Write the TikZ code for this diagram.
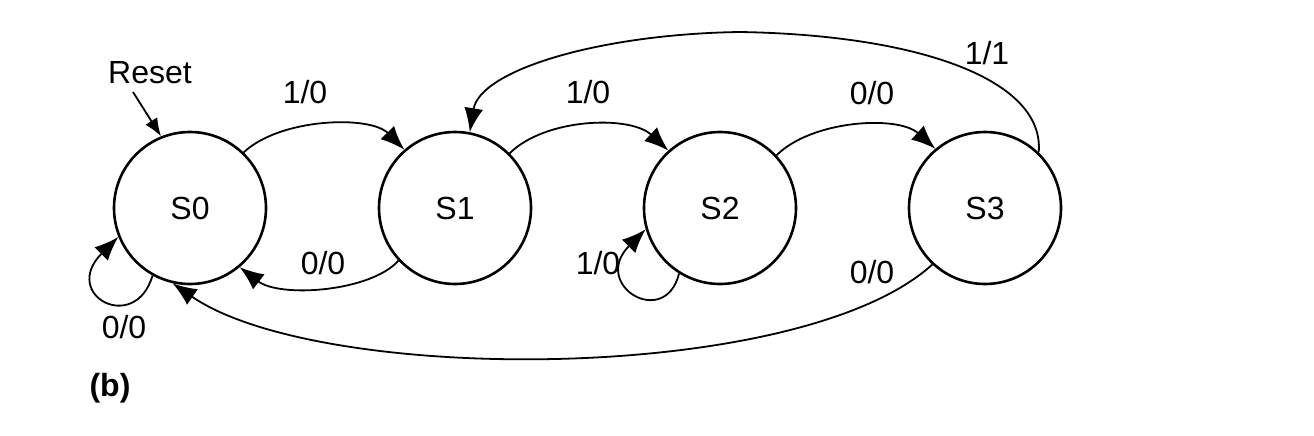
\documentclass[tikz,border=0pt]{standalone}
\usepackage{fontspec}
\setmainfont{Liberation Sans}
\usetikzlibrary{arrows.meta}
\begin{document}
\begin{tikzpicture}[x=1pt,y=-1pt,
  state/.style={circle,draw,line width=2.6pt,minimum size=152pt,inner sep=0pt,font=\fontsize{32}{38}\selectfont},
  lbl/.style={font=\fontsize{32}{38}\selectfont,inner sep=0pt},
  edge/.style={line width=1.8pt,-{Latex[length=24pt,width=19pt]}},
  redge/.style={line width=1.8pt,-{Latex[length=18pt,width=14pt]}}]
\useasboundingbox (0,0) rectangle (1314,436);
\node[state] (S0) at (190,208) {S0};
\node[state] (S1) at (455,208) {S1};
\node[state] (S2) at (720,208) {S2};
\node[state] (S3) at (985,208) {S3};
% labels
\node[lbl] (reset) at (150,73) {Reset};
\node[lbl] (l01) at (305,92) {1/0};
\node[lbl] (l12) at (588,92) {1/0};
\node[lbl] (l23) at (872,93) {0/0};
\node[lbl] (l31) at (987,53) {1/1};
\node[lbl] (l10) at (323,263) {0/0};
\node[lbl] (l22) at (598,263) {1/0};
\node[lbl] (l30) at (872,272) {0/0};
\node[lbl] (l00) at (124,327) {0/0};
\node[lbl,font=\fontsize{32}{38}\selectfont\bfseries] (b) at (110,388) {(b)};
% reset arrow
\coordinate (rs) at (133,92);
\draw[redge] (rs) -- (S0.112);
% forward edges
\draw[edge] (S0.46) .. controls (280,118) and (370,115) .. (S1.131);
\draw[edge] (S1.45) .. controls (545,118) and (630,115) .. (S2.132);
\draw[edge] (S2.43) .. controls (812,120) and (898,115) .. (S3.130);
% S3 -> S1 (1/1)
\coordinate (top) at (740,32);
\draw[edge] (S3.46) .. controls (1045,80) and (920,35) .. (top)
  .. controls (600,34) and (480,70) .. (S1.79);
% S1 -> S0
\draw[edge] (S1.223) .. controls (370,292) and (280,298) .. (S0.310);
% S3 -> S0
\draw[edge] (S3.227) .. controls (800,385) and (320,385) .. (S0.257);
% self loops
\draw[edge] (S0.241) .. controls (135,335) and (60,295) .. (S0.202);
\draw[edge] (S2.238) .. controls (665,330) and (590,285) .. (S2.196);
\end{tikzpicture}
\end{document}
